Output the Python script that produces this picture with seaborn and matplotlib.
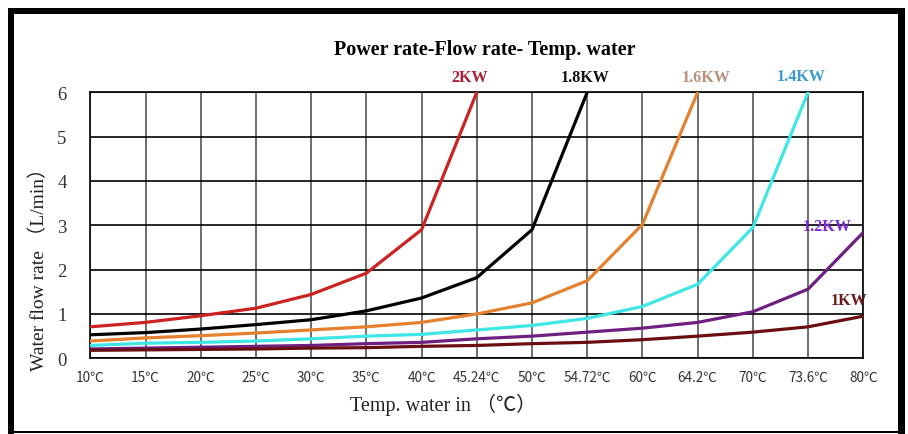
import numpy as np
import pandas as pd
import matplotlib
matplotlib.use("Agg")
import matplotlib.pyplot as plt
from matplotlib.patches import Rectangle
import seaborn as sns

# ---------------- data ----------------
temps = ["10℃", "15℃", "20℃", "25℃", "30℃", "35℃", "40℃", "45.24℃",
         "50℃", "54.72℃", "60℃", "64.2℃", "70℃", "73.6℃", "80℃"]
nan = np.nan
flow_2kw = [0.71, 0.81, 0.96, 1.13, 1.44, 1.92, 2.90, 6.0, nan, nan, nan, nan, nan, nan, nan]
flow_18kw = [0.53, 0.58, 0.66, 0.76, 0.87, 1.07, 1.36, 1.82, 2.90, 6.0, nan, nan, nan, nan, nan]
flow_16kw = [0.39, 0.46, 0.51, 0.57, 0.64, 0.71, 0.81, 1.00, 1.25, 1.75, 3.02, 6.0, nan, nan, nan]
flow_14kw = [0.29, 0.34, 0.36, 0.39, 0.44, 0.50, 0.54, 0.64, 0.74, 0.90, 1.17, 1.67, 2.95, 6.0, nan]
flow_12kw = [0.21, 0.23, 0.25, 0.27, 0.29, 0.33, 0.36, 0.44, 0.50, 0.59, 0.68, 0.81, 1.05, 1.56, 2.84]
flow_1kw = [0.18, 0.19, 0.20, 0.21, 0.23, 0.24, 0.27, 0.29, 0.33, 0.36, 0.42, 0.50, 0.59, 0.71, 0.95]
powers = ["2KW", "1.8KW", "1.6KW", "1.4KW", "1.2KW", "1KW"]
series = [flow_2kw, flow_18kw, flow_16kw, flow_14kw, flow_12kw, flow_1kw]
yticks = [0, 1, 2, 3, 4, 5, 6]

line_colors = ["#CC2222", "#000000", "#E4802E", "#3EE6E6", "#6E1F82", "#6A0E12"]
label_colors = ["#A8203A", "#111111", "#B8907C", "#3A9AD0", "#7A2AD4", "#6B1A1A"]

rows = []
for p, vals in zip(powers, series):
    for t, v in zip(temps, vals):
        rows.append({"temp": t, "flow": v, "power": p})
df = pd.DataFrame(rows)

# ---------------- figure ----------------
sns.set_theme(style="white")
plt.rcParams["font.family"] = ["Liberation Serif", "Noto Sans CJK SC", "DejaVu Sans"]

W, H = 908, 435
fig = plt.figure(figsize=(W / 100, H / 100), dpi=100)
fig.patch.set_facecolor("white")

def fx(px):
    return px / W

def fy(py):
    return 1 - py / H

left, right, top, bottom = 90.3, 863.3, 93.3, 359.3
ax = fig.add_axes([fx(left), fy(bottom), fx(right) - fx(left), fy(top) - fy(bottom)])

sns.lineplot(data=df, x="temp", y="flow", hue="power", hue_order=powers,
             palette=dict(zip(powers, line_colors)), sort=False, legend=False,
             linewidth=2.3, ax=ax, zorder=3)

ax.set_xlim(0, len(temps) - 1)
ax.set_ylim(0, 6)
ax.set_yticks(yticks)
ax.set_yticklabels([str(v) for v in yticks], fontsize=13.5, family="Liberation Serif", color="#333333")
ax.set_xticks(range(len(temps)))
ax.set_xticklabels(temps, fontsize=9.8, family=["Noto Sans CJK SC", "DejaVu Sans"], color="#333333")
ax.tick_params(axis="y", length=0, pad=17)
ax.tick_params(axis="x", length=0, pad=8)

for i in range(len(temps)):
    ax.axvline(i, color="#555555", linewidth=1.2, zorder=1)
for v in yticks:
    ax.axhline(v, color="#000000", linewidth=1.2, zorder=1)
for s in ax.spines.values():
    s.set_color("#000000")
    s.set_linewidth(1.2)

ax.set_xlabel("")
ax.set_ylabel("")

# axis labels and title
fig.text(fx(39), fy(265), "Water flow rate （L/min）", rotation=90, ha="center", va="center",
         fontsize=14, color="#222222")
fig.text(fx(350), fy(405), "Temp. water in （℃）", ha="left", va="center",
         fontsize=14.5, color="#222222")
fig.text(fx(485), fy(50), "Power rate-Flow rate- Temp. water", ha="center", va="center",
         fontsize=14.5, fontweight="bold", family="Liberation Serif", color="#000000")

# series labels
label_pos = [(470, 78), (585, 78), (706, 78), (801, 77), (827, 227), (849, 301)]
for p, c, (lx, ly) in zip(powers, label_colors, label_pos):
    fig.text(fx(lx), fy(ly), p, ha="center", va="center", fontsize=11.5,
             fontweight="bold", family="Liberation Serif", color=c)

# black frame
def frame_rect(x0, y0, x1, y1):
    fig.add_artist(Rectangle((fx(x0), fy(y1)), fx(x1) - fx(x0), fy(y0) - fy(y1),
                             transform=fig.transFigure, facecolor="black",
                             edgecolor="none", zorder=10))

frame_rect(8, 9, 905, 15)      # top
frame_rect(8, 9, 14, 435)      # left
frame_rect(898, 9, 905, 435)   # right
frame_rect(8, 432, 905, 434)   # bottom

fig.savefig("out.png", dpi=100, facecolor="white")
